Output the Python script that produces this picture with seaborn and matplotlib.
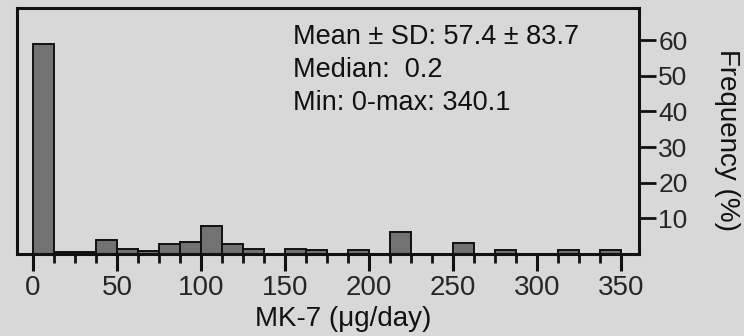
import numpy as np
import pandas as pd
import matplotlib
matplotlib.use("Agg")
import matplotlib.pyplot as plt
import seaborn as sns
from matplotlib.ticker import MultipleLocator, FixedLocator

# ---- data ----
bin_width = 12.5
bin_left = [0, 12.5, 25, 37.5, 50, 62.5, 75, 87.5, 100, 112.5, 125, 137.5, 150, 162.5,
            175, 187.5, 200, 212.5, 225, 237.5, 250, 262.5, 275, 287.5, 300, 312.5, 325, 337.5]
freq_pct = [58.9, 0.7, 0.7, 4.0, 1.3, 0.9, 2.9, 3.5, 7.8, 2.9, 1.3, 0.0, 1.4, 1.1,
            0.0, 1.1, 0.0, 6.3, 0.0, 0.0, 3.0, 0.0, 1.2, 0.0, 0.0, 1.1, 0.0, 1.1]
x_ticks = [0, 50, 100, 150, 200, 250, 300, 350]
y_ticks = [10, 20, 30, 40, 50, 60]
stats_lines = ["Mean \u00b1 SD: 57.4 \u00b1 83.7", "Median:  0.2", "Min: 0-max: 340.1"]
x_label = "MK-7 (\u03bcg/day)"
y_label = "Frequency (%)"

df = pd.DataFrame({"center": np.array(bin_left) + bin_width / 2, "pct": freq_pct})

sns.set_theme(style="white")
plt.rcParams["font.family"] = ["Liberation Sans", "DejaVu Sans"]
bg = "#d8d8d8"

fig = plt.figure(figsize=(7.44, 3.36), dpi=100, facecolor=bg)
ax = fig.add_axes([17 / 744, 1 - 254 / 336, 622 / 744, 246 / 336])
ax.set_facecolor(bg)

sns.histplot(data=df, x="center", weights="pct", binwidth=bin_width,
             binrange=(bin_left[0], bin_left[-1] + bin_width), ax=ax,
             color="#727272", edgecolor="#111111", linewidth=1.4, alpha=1.0)

ax.set_xlim(-9.5, 360.6)
ax.set_ylim(0, 69)

for s in ax.spines.values():
    s.set_visible(True)
    s.set_color("#111111")
    s.set_linewidth(2.2)

ax.xaxis.set_major_locator(FixedLocator(x_ticks))
ax.xaxis.set_minor_locator(MultipleLocator(bin_width))
ax.yaxis.set_major_locator(FixedLocator(y_ticks))
ax.yaxis.tick_right()
ax.yaxis.set_label_position("right")

ax.tick_params(axis="x", which="major", direction="out", length=12, width=2.2,
               color="#111111", labelsize=20, pad=3, bottom=True)
ax.tick_params(axis="x", which="minor", direction="out", length=6.5, width=2.0,
               color="#111111", bottom=True)
ax.tick_params(axis="y", which="major", direction="out", length=12, width=2.0,
               color="#111111", labelsize=19, pad=2, right=True, left=False)

ax.set_xlabel(x_label, fontsize=20, color="#111111")
ax.xaxis.set_label_coords((343 - 17) / 622, -(319 - 254) / 246)
ax.xaxis.label.set_va("center")
ax.set_ylabel(y_label, fontsize=20, color="#111111", rotation=-90)
ax.yaxis.set_label_coords((727 - 17) / 622, (254 - 140) / 246)
ax.yaxis.label.set_va("center")
ax.yaxis.label.set_ha("center")

for i, line in enumerate(stats_lines):
    fig.text(293 / 744, 1 - (37 + 33 * i) / 336, line, fontsize=19.5,
             color="#111111", ha="left", va="center")

fig.savefig("out.png", dpi=100, facecolor=bg)
